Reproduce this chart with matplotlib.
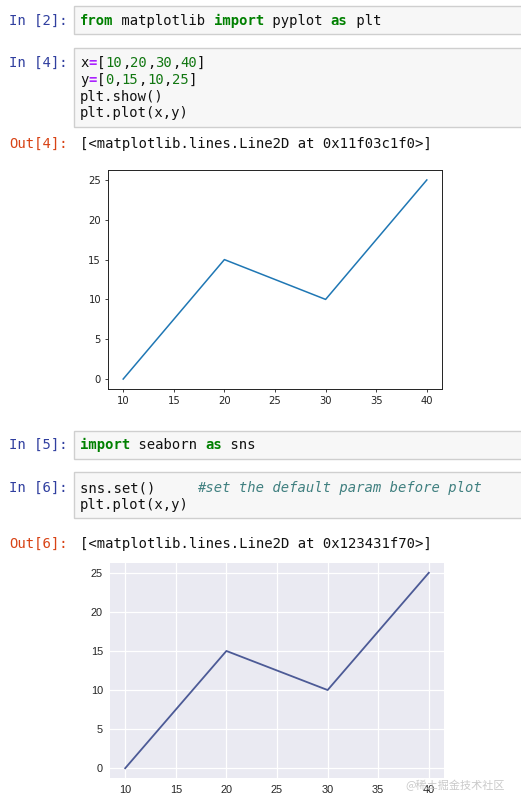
import matplotlib.pyplot as plt
from matplotlib.patches import Rectangle

# data shown in the notebook
x = [10, 20, 30, 40]
y = [0, 15, 10, 25]
xticks = [10, 15, 20, 25, 30, 35, 40]
yticks = [0, 5, 10, 15, 20, 25]

W, H = 521, 807
fig = plt.figure(figsize=(W / 100, H / 100), dpi=100)
fig.patch.set_facecolor('white')

def fx(px):
    return px / W

def fy(py):
    return 1 - py / H

# notebook colours
KW = '#008000'
NUM = '#117711'
OP = '#AA22FF'
COM = '#408080'
TXT = '#111111'
IN_C = '#303F9F'
OUT_C = '#D84315'
MONO = 'DejaVu Sans Mono'
CW = 8.36  # char width in px at 10pt

def code_box(top, bottom):
    fig.patches.append(Rectangle((fx(74), fy(bottom)), fx(W + 10) - fx(74), fy(top) - fy(bottom),
                                 transform=fig.transFigure, facecolor='#f7f7f7',
                                 edgecolor='#cfcfcf', linewidth=1))

def prompt(label, yc, color):
    fig.text(fx(68), fy(yc), label, color=color, family=MONO, fontsize=10,
             ha='right', va='center')

def code_line(segs, yc, x0=80):
    col = 0
    for s, color, weight, style in segs:
        fig.text(fx(x0 + col * CW), fy(yc), s, color=color, family=MONO, fontsize=10,
                 fontweight=weight, fontstyle=style, ha='left', va='center')
        col += len(s)

n = 'normal'

# In [2]
code_box(6, 34)
prompt('In [2]:', 21, IN_C)
code_line([('from', KW, 'bold', n), (' matplotlib ', TXT, n, n), ('import', KW, 'bold', n),
           (' pyplot ', TXT, n, n), ('as', KW, 'bold', n), (' plt', TXT, n, n)], 21)

# In [4]
code_box(48, 127)
prompt('In [4]:', 63, IN_C)
code_line([('x', TXT, n, n), ('=', OP, 'bold', n), ('[', TXT, n, n), ('10', NUM, n, n), (',', TXT, n, n),
           ('20', NUM, n, n), (',', TXT, n, n), ('30', NUM, n, n), (',', TXT, n, n),
           ('40', NUM, n, n), (']', TXT, n, n)], 63)
code_line([('y', TXT, n, n), ('=', OP, 'bold', n), ('[', TXT, n, n), ('0', NUM, n, n), (',', TXT, n, n),
           ('15', NUM, n, n), (',', TXT, n, n), ('10', NUM, n, n), (',', TXT, n, n),
           ('25', NUM, n, n), (']', TXT, n, n)], 80)
code_line([('plt.show()', TXT, n, n)], 97)
code_line([('plt.plot(x,y)', TXT, n, n)], 113)
prompt('Out[4]:', 144, OUT_C)
code_line([('[<matplotlib.lines.Line2D at 0x11f03c1f0>]', TXT, n, n)], 144)

# In [5]
code_box(431, 459)
prompt('In [5]:', 445, IN_C)
code_line([('import', KW, 'bold', n), (' seaborn ', TXT, n, n), ('as', KW, 'bold', n),
           (' sns', TXT, n, n)], 445)

# In [6]
code_box(472, 518)
prompt('In [6]:', 488, IN_C)
code_line([('sns.set()     ', TXT, n, n), ('#set the default param before plot', COM, n, 'italic')], 488)
code_line([('plt.plot(x,y)', TXT, n, n)], 505)
prompt('Out[6]:', 544, OUT_C)
code_line([('[<matplotlib.lines.Line2D at 0x123431f70>]', TXT, n, n)], 544)

# first plot: matplotlib defaults (scaled from 72 dpi)
ax1 = fig.add_axes([fx(108), fy(389), fx(442) - fx(108), fy(170) - fy(389)])
ax1.plot(x, y, color='#1f77b4', linewidth=1.1)
ax1.set_xticks(xticks)
ax1.set_yticks(yticks)
ax1.tick_params(labelsize=7.2, length=2.5, width=0.6, pad=2.5, colors='#222222')
for sp in ax1.spines.values():
    sp.set_linewidth(0.7)
    sp.set_color('#222222')

# second plot: seaborn darkgrid look
ax2 = fig.add_axes([fx(110), fy(778), fx(444) - fx(110), fy(563) - fy(778)])
ax2.set_facecolor('#EAEAF2')
ax2.plot(x, y, color='#4C5A96', linewidth=1.3, zorder=3)
ax2.set_xticks(xticks)
ax2.set_yticks(yticks)
ax2.grid(True, color='white', linewidth=0.9)
ax2.set_axisbelow(True)
for sp in ax2.spines.values():
    sp.set_visible(False)
ax2.tick_params(labelsize=7.9, length=0, pad=5, colors='#262626')
for lab in ax2.get_xticklabels() + ax2.get_yticklabels():
    lab.set_family('Liberation Sans')

# watermark
fig.text(fx(455), fy(785), '@稀土掘金技术社区', family=['Noto Sans CJK SC', 'DejaVu Sans'],
         fontsize=8, color='#c4c4c4', ha='center', va='center', alpha=0.9)

fig.savefig('out.png', dpi=100)
